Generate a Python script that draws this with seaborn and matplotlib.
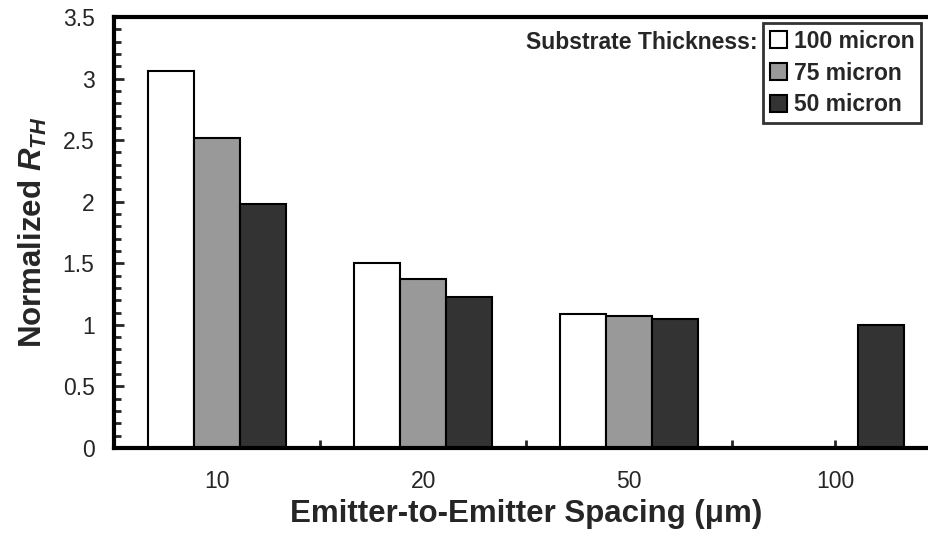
import numpy as np
import pandas as pd
import matplotlib
matplotlib.use("Agg")
import matplotlib.pyplot as plt
import seaborn as sns
from matplotlib.patches import Patch
from matplotlib.ticker import MultipleLocator, FixedLocator, FixedFormatter

# Data
spacings = ["10", "20", "50", "100"]
thickness = ["100 micron", "75 micron", "50 micron"]
vals_100 = [3.06, 1.50, 1.09, np.nan]
vals_75 = [2.52, 1.37, 1.07, np.nan]
vals_50 = [1.98, 1.23, 1.05, 1.00]
colors = ["#ffffff", "#999999", "#333333"]
ytick_vals = [0, 0.5, 1, 1.5, 2, 2.5, 3, 3.5]
ytick_labels = ["0", "0.5", "1", "1.5", "2", "2.5", "3", "3.5"]

rows = []
for t, vals in zip(thickness, [vals_100, vals_75, vals_50]):
    for s, v in zip(spacings, vals):
        rows.append({"Spacing": s, "Thickness": t, "Value": v})
df = pd.DataFrame(rows)

sns.set_theme(style="white")
plt.rcParams['font.family'] = ['Liberation Sans', 'DejaVu Sans']
plt.rcParams['mathtext.fontset'] = 'custom'
plt.rcParams['mathtext.bfit'] = 'Liberation Sans:italic:bold'
plt.rcParams['mathtext.it'] = 'Liberation Sans:italic:bold'
plt.rcParams['mathtext.rm'] = 'Liberation Sans:bold'

fig = plt.figure(figsize=(9.29, 5.46), dpi=100)
ax = fig.add_axes([114/929, 1 - 448/546, (929 - 114)/929 + 0.01, (448 - 17)/546])

sns.barplot(data=df, x="Spacing", y="Value", hue="Thickness", order=spacings,
            hue_order=thickness, palette=colors, width=0.67, edgecolor="black",
            linewidth=1.5, ax=ax, legend=False, saturation=1)

ax.set_xlim(-0.5, 3.5)
ax.set_ylim(0, 3.5)
ax.yaxis.set_major_locator(FixedLocator(ytick_vals))
ax.yaxis.set_major_formatter(FixedFormatter(ytick_labels))
ax.yaxis.set_minor_locator(MultipleLocator(0.1))
ax.xaxis.set_minor_locator(FixedLocator([0.5, 1.5, 2.5]))

ax.tick_params(axis="y", which="major", direction="in", length=7, width=2,
               labelsize=16.5, pad=14, left=True)
ax.tick_params(axis="y", which="minor", direction="in", length=5, width=2, left=True)
ax.tick_params(axis="x", which="major", direction="in", length=6, width=2,
               labelsize=16.5, pad=16, bottom=True)
ax.tick_params(axis="x", which="minor", direction="in", length=6, width=2, bottom=True)

for side in ["left", "bottom", "top"]:
    ax.spines[side].set_visible(True)
    ax.spines[side].set_linewidth(3)
    ax.spines[side].set_color("black")
ax.spines["right"].set_visible(False)

ax.set_xlabel("Emitter-to-Emitter Spacing (\u03bcm)", fontsize=22.5, fontweight="bold", labelpad=4)
ax.set_ylabel(r"Normalized $R_{TH}$", fontsize=22.5, fontweight="bold", labelpad=10)

handles = [Patch(facecolor=c, edgecolor="black", linewidth=1.5) for c in colors]
leg = fig.legend(handles, thickness, loc="upper left",
                 bbox_to_anchor=(763/929, 1 - 23/546),
                 prop={"weight": "bold", "size": 16.5}, frameon=True, fancybox=False,
                 edgecolor="black", handlelength=0.75, handleheight=0.75,
                 handletextpad=0.3, borderpad=0.3, labelspacing=0.38, borderaxespad=0)
leg.get_frame().set_linewidth(2)
fig.text(758/929, 1 - 43/546, "Substrate Thickness:", ha="right", va="center",
         fontsize=16.5, fontweight="bold")

fig.savefig("out.png", dpi=100)
